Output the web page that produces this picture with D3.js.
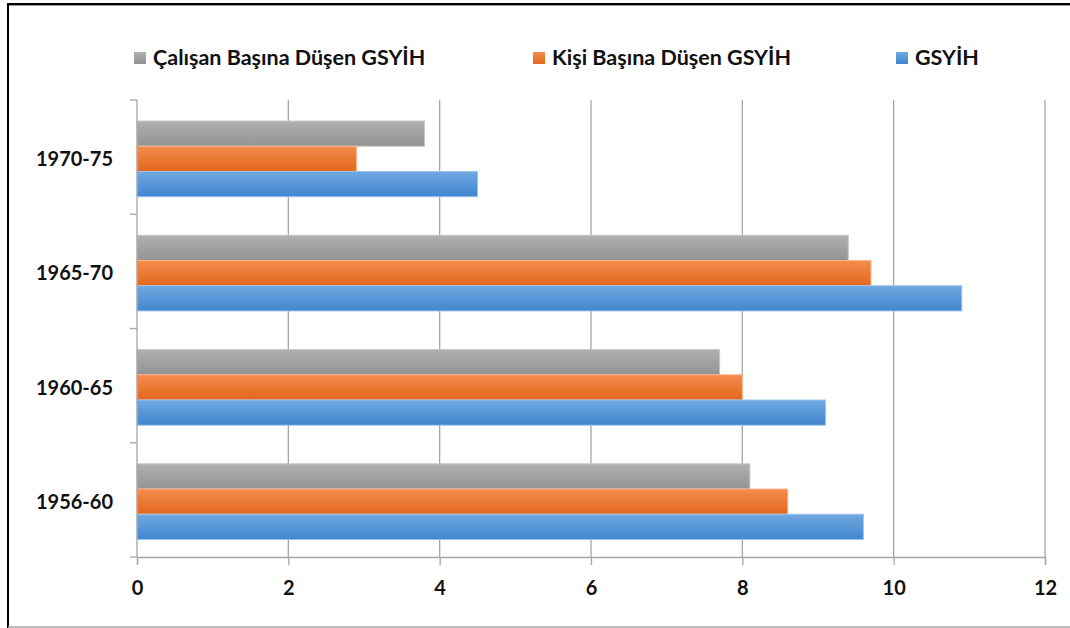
<!DOCTYPE html>
<html lang="tr">
<head>
<meta charset="UTF-8">
<title>GSYİH Büyüme Hızları</title>
<script src="https://d3js.org/d3.v7.min.js"></script>
<style>
    body { margin: 0; background: #fff; }
    text { font-family: Lato, "Open Sans", sans-serif; font-weight: bold; fill: #111; }
</style>
</head>
<body>
<svg id="chart" width="1070" height="628"></svg>
<script>
    // data
    const periods = ["1956-60", "1960-65", "1965-70", "1970-75"];
    const seriesNames = ["Çalışan Başına Düşen GSYİH", "Kişi Başına Düşen GSYİH", "GSYİH"];
    const calisanBasina = [8.1, 7.7, 9.4, 3.8];
    const kisiBasina = [8.6, 8.0, 9.7, 2.9];
    const gsyih = [9.6, 9.1, 10.9, 4.5];
    const xTicks = [0, 2, 4, 6, 8, 10, 12];

    const seriesValues = [calisanBasina, kisiBasina, gsyih];
    const colors = [
        { top: "#b0b0b0", bottom: "#939393", edge: "#c8c8c8" },
        { top: "#f48c50", bottom: "#e2671a", edge: "#f7b48a" },
        { top: "#70a8e2", bottom: "#4186cd", edge: "#9cc3ec" }
    ];

    const svg = d3.select("#chart");
    const margin = { top: 100, left: 137, right: 25, bottom: 71 };
    const W = 1070, H = 628;
    const width = W - margin.left - margin.right;
    const height = H - margin.top - margin.bottom;

    // outer frame
    svg.append("line").attr("x1", 7).attr("x2", W).attr("y1", 4).attr("y2", 4)
        .attr("stroke", "#000").attr("stroke-width", 2);
    svg.append("line").attr("x1", 7).attr("x2", W).attr("y1", 5.5).attr("y2", 5.5)
        .attr("stroke", "#999").attr("stroke-width", 1);
    svg.append("line").attr("x1", 8).attr("x2", 8).attr("y1", 3).attr("y2", H)
        .attr("stroke", "#000").attr("stroke-width", 2);
    svg.append("line").attr("x1", 8).attr("x2", W).attr("y1", 627).attr("y2", 627)
        .attr("stroke", "#aaa").attr("stroke-width", 1.5);

    // gradients
    const defs = svg.append("defs");
    colors.forEach((c, i) => {
        const g = defs.append("linearGradient").attr("id", "grad" + i)
            .attr("x1", 0).attr("x2", 0).attr("y1", 0).attr("y2", 1);
        g.append("stop").attr("offset", "0%").attr("stop-color", c.top);
        g.append("stop").attr("offset", "100%").attr("stop-color", c.bottom);
    });

    const g = svg.append("g").attr("transform", `translate(${margin.left},${margin.top})`);

    const x = d3.scaleLinear().domain([0, 12]).range([0, width]);
    // top to bottom: 1970-75 ... 1956-60
    const y = d3.scaleBand().domain(periods.slice().reverse()).range([0, height]);
    // gap width 50% -> group takes 2/3 of band
    const inner = d3.scaleBand().domain([0, 1, 2])
        .range([y.bandwidth() / 6 + 2, y.bandwidth() * 5 / 6 + 1.5]);

    // vertical gridlines
    g.selectAll(".grid").data(xTicks.slice(1)).enter().append("line")
        .attr("x1", d => x(d)).attr("x2", d => x(d))
        .attr("y1", 0).attr("y2", height)
        .attr("stroke", "#a6a6a6").attr("stroke-width", 1.3);

    // bars
    seriesValues.forEach((vals, s) => {
        g.selectAll(".bar" + s).data(periods).enter().append("rect")
            .attr("x", x(0))
            .attr("y", (d) => y(d) + inner(s))
            .attr("width", (d, i) => x(vals[i]) - x(0))
            .attr("height", inner.bandwidth())
            .attr("fill", "url(#grad" + s + ")")
            .attr("stroke", colors[s].edge)
            .attr("stroke-width", 1);
    });

    // x axis
    const xAxis = g.append("g").attr("transform", `translate(0,${height})`)
        .call(d3.axisBottom(x).tickValues(xTicks).tickSize(8).tickPadding(16));
    xAxis.select(".domain").attr("stroke", "#a6a6a6").attr("stroke-width", 1.3);
    xAxis.selectAll(".tick line").attr("stroke", "#a6a6a6").attr("stroke-width", 1.3);
    xAxis.selectAll("text").attr("font-size", 20).attr("fill", "#111")
        .attr("font-family", "Lato, sans-serif").attr("font-weight", "bold");

    // y axis: ticks at category boundaries
    g.append("line").attr("x1", 0).attr("x2", 0).attr("y1", 0).attr("y2", height)
        .attr("stroke", "#a6a6a6").attr("stroke-width", 1.3);
    const bounds = y.domain().map(d => y(d)).concat([height]);
    g.selectAll(".ytick").data(bounds).enter().append("line")
        .attr("x1", -7).attr("x2", 0).attr("y1", d => d).attr("y2", d => d)
        .attr("stroke", "#a6a6a6").attr("stroke-width", 1.3);
    g.selectAll(".ylab").data(periods).enter().append("text")
        .attr("x", -24).attr("y", d => y(d) + y.bandwidth() / 2 + 2)
        .attr("dy", "0.35em").attr("text-anchor", "end")
        .attr("font-size", 20).text(d => d);

    // legend
    const legendX = [134, 533, 896];
    const legend = svg.selectAll(".legend").data(seriesNames).enter().append("g")
        .attr("transform", (d, i) => `translate(${legendX[i]},52)`);
    legend.append("rect").attr("width", 12).attr("height", 12)
        .attr("fill", (d, i) => "url(#grad" + i + ")");
    legend.append("text").attr("x", 19).attr("y", 13)
        .attr("font-size", 21.5).text(d => d);
</script>
</body>
</html>
